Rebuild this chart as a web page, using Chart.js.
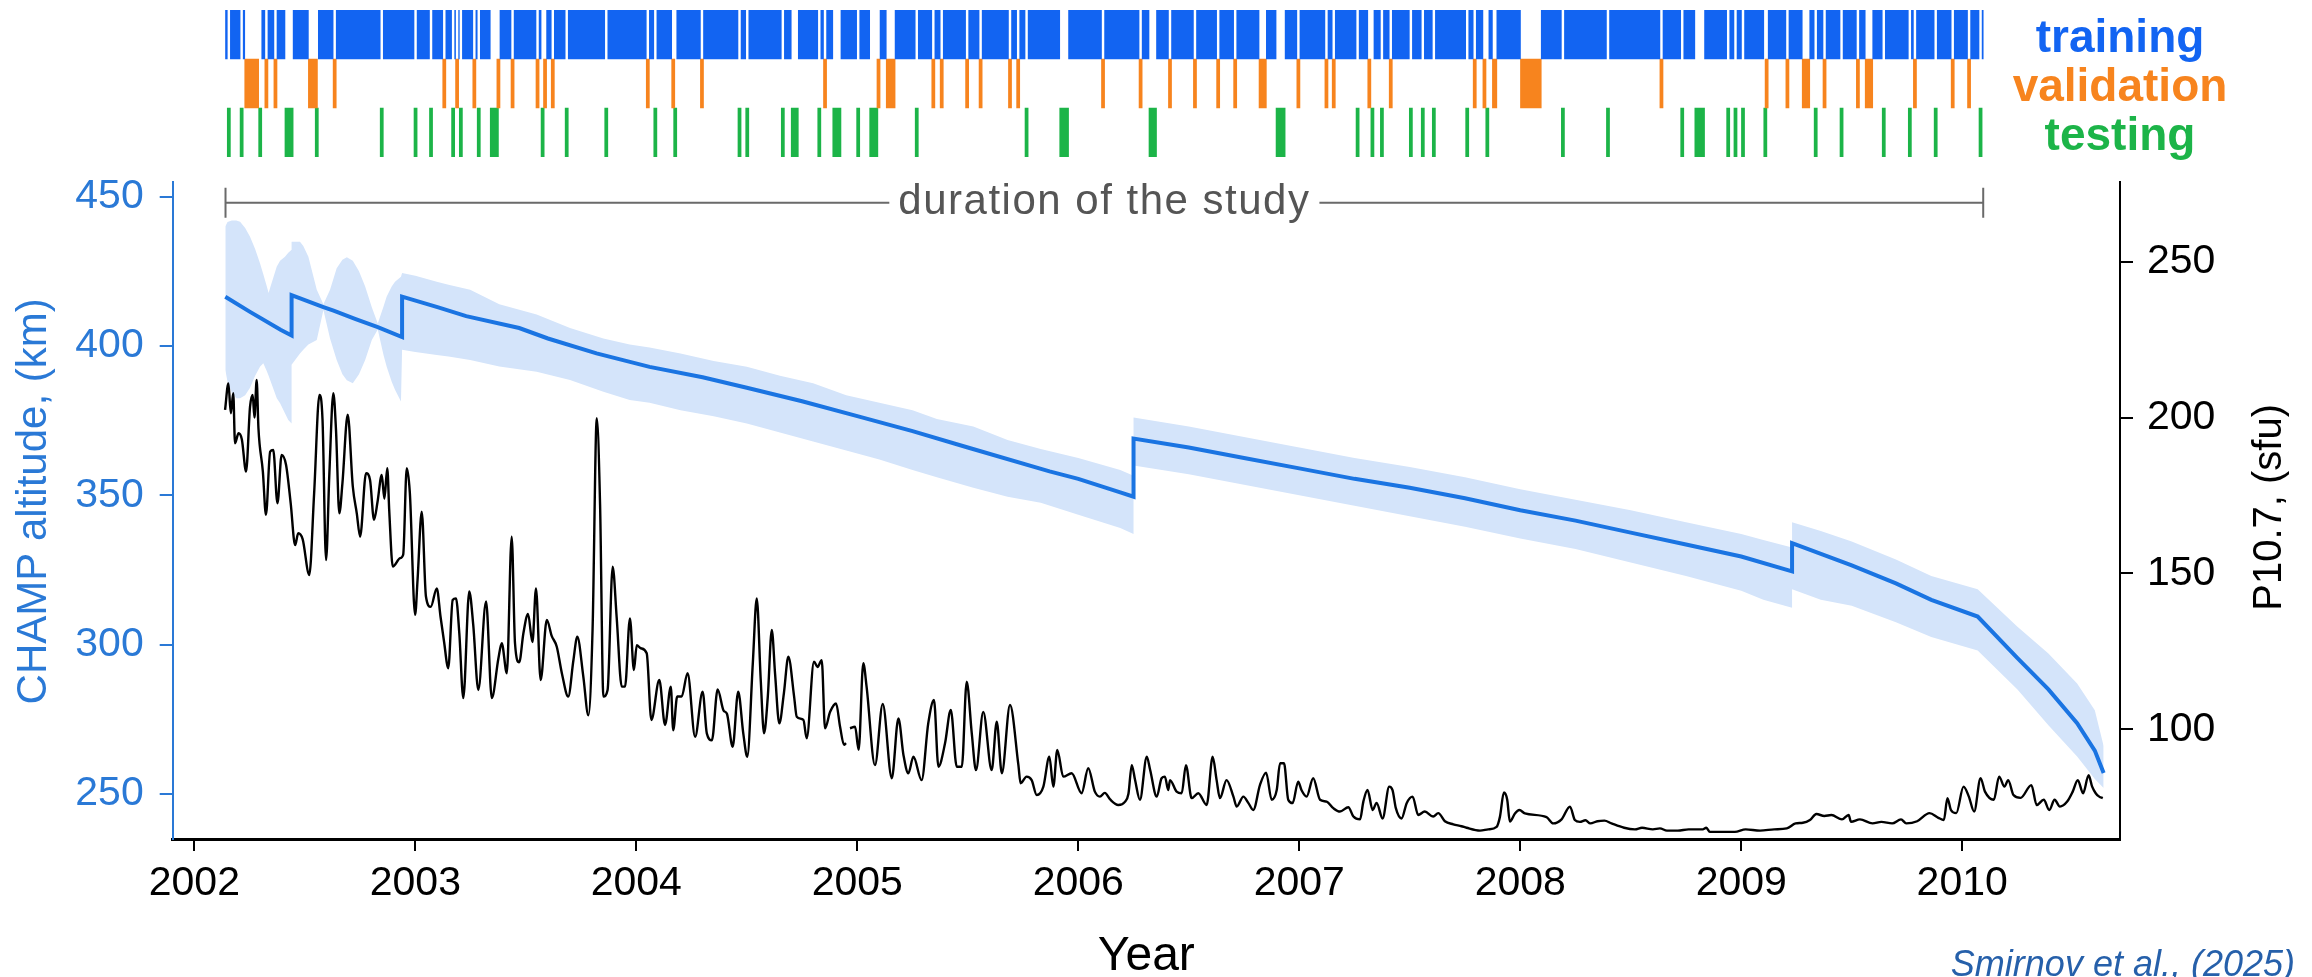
<!DOCTYPE html>
<html>
<head>
<meta charset="utf-8">
<title>CHAMP altitude and P10.7</title>
<script src="https://cdn.jsdelivr.net/npm/chart.js@4.4.1/dist/chart.umd.min.js"></script>
<style>
  html, body { margin: 0; padding: 0; background: #fff; }
  #wrap { position: relative; width: 2312px; height: 977px; }
  #wrap canvas { position: absolute; left: 0; top: 0; }
</style>
</head>
<body>
<div id="wrap">
  <canvas id="main" width="2312" height="977"></canvas>
  <canvas id="sets" width="2312" height="170"></canvas>
</div>
<script>
// time axis (decimal years)
const yearMin = 2001.902;
const yearMax = 2010.714;
const yearTicks = [2002, 2003, 2004, 2005, 2006, 2007, 2008, 2009, 2010];

// left axis: CHAMP altitude (km)
const altMin = 234.9;
const altMax = 455.0;
const altTicks = [250, 300, 350, 400, 450];

// right axis: P10.7 (sfu)
const fluxMin = 64.8;
const fluxMax = 275.7;
const fluxTicks = [100, 150, 200, 250];

// study window and the split of days into sets
const studyStart = 2002.141;
const studyEnd = 2010.095;
const setNames = ['training', 'validation', 'testing'];

const validationSpans = [
  [2002.228, 2002.291], [2002.319, 2002.333], [2002.360, 2002.374], [2002.516, 2002.557],
  [2002.628, 2002.642], [2003.124, 2003.138], [2003.182, 2003.196], [2003.260, 2003.274],
  [2003.369, 2003.383], [2003.433, 2003.447], [2003.546, 2003.560], [2003.580, 2003.594],
  [2003.615, 2003.629], [2004.045, 2004.059], [2004.160, 2004.174], [2004.290, 2004.304],
  [2004.847, 2004.861], [2005.089, 2005.103], [2005.131, 2005.171], [2005.337, 2005.351],
  [2005.375, 2005.389], [2005.490, 2005.504], [2005.551, 2005.565], [2005.684, 2005.698],
  [2005.721, 2005.735], [2006.105, 2006.119], [2006.275, 2006.289], [2006.408, 2006.422],
  [2006.521, 2006.535], [2006.626, 2006.640], [2006.703, 2006.717], [2006.818, 2006.851],
  [2006.989, 2007.003], [2007.116, 2007.130], [2007.149, 2007.163], [2007.310, 2007.324],
  [2007.407, 2007.421], [2007.787, 2007.801], [2007.831, 2007.845], [2007.874, 2007.894],
  [2008.001, 2008.095], [2008.632, 2008.646], [2009.108, 2009.122], [2009.202, 2009.216],
  [2009.276, 2009.310], [2009.370, 2009.384], [2009.521, 2009.535], [2009.561, 2009.595],
  [2009.779, 2009.793], [2009.950, 2009.964], [2010.024, 2010.038]
];

const testingSpans = [
  [2002.149, 2002.163], [2002.207, 2002.221], [2002.291, 2002.305], [2002.410, 2002.447],
  [2002.547, 2002.561], [2002.841, 2002.855], [2002.994, 2003.008], [2003.064, 2003.078],
  [2003.164, 2003.178], [2003.199, 2003.213], [2003.280, 2003.294], [2003.339, 2003.376],
  [2003.569, 2003.583], [2003.678, 2003.692], [2003.857, 2003.871], [2004.079, 2004.093],
  [2004.169, 2004.183], [2004.460, 2004.474], [2004.495, 2004.509], [2004.656, 2004.670],
  [2004.701, 2004.733], [2004.821, 2004.835], [2004.889, 2004.926], [2004.997, 2005.011],
  [2005.056, 2005.093], [2005.262, 2005.276], [2005.759, 2005.773], [2005.916, 2005.956],
  [2006.320, 2006.354], [2006.895, 2006.936], [2007.257, 2007.271], [2007.324, 2007.338],
  [2007.367, 2007.381], [2007.498, 2007.512], [2007.552, 2007.566], [2007.602, 2007.616],
  [2007.753, 2007.767], [2007.844, 2007.858], [2008.186, 2008.200], [2008.390, 2008.404],
  [2008.726, 2008.740], [2008.790, 2008.834], [2008.934, 2008.948], [2008.967, 2008.981],
  [2009.001, 2009.015], [2009.102, 2009.116], [2009.330, 2009.344], [2009.447, 2009.461],
  [2009.638, 2009.652], [2009.756, 2009.770], [2009.873, 2009.887], [2010.076, 2010.090]
];

// CHAMP altitude, the jumps are the orbit raising manoeuvres
const altYears = [
  2002.14, 2002.25, 2002.39, 2002.44, 2002.44, 2002.584, 2002.63, 2002.73, 2002.83, 2002.94,
  2002.94, 2003.10, 2003.23, 2003.47, 2003.60, 2003.82, 2004.06, 2004.30, 2004.50, 2004.75,
  2005.00, 2005.25, 2005.50, 2005.87, 2006.00, 2006.19, 2006.25, 2006.25, 2006.50, 2006.75,
  2007.00, 2007.25, 2007.50, 2007.75, 2008.00, 2008.25, 2008.50, 2008.75, 2009.00, 2009.23,
  2009.23, 2009.50, 2009.70, 2009.86, 2010.07, 2010.25, 2010.39, 2010.52, 2010.60, 2010.64
];
const altValues = [
  416.5, 411.5, 405.4, 403.5, 417.0, 413.0, 411.8, 409.0, 406.3, 403.0,
  416.5, 413.0, 410.0, 406.0, 402.5, 397.5, 393.0, 389.5, 386.0, 381.5,
  376.5, 371.5, 366.0, 358.0, 355.5, 351.0, 349.5, 369.0, 366.0, 362.5,
  359.0, 355.5, 352.5, 349.0, 345.0, 341.5, 337.5, 333.5, 329.5, 324.5,
  334.0, 326.5, 320.5, 315.0, 309.4, 295.5, 285.0, 273.7, 264.5, 257.0
];

// altitude uncertainty band
const bandYears = [
  2002.140, 2002.150, 2002.169, 2002.190, 2002.207, 2002.230, 2002.252, 2002.275, 2002.297, 2002.312,
  2002.328, 2002.336, 2002.343, 2002.373, 2002.388, 2002.410, 2002.425, 2002.440, 2002.440, 2002.478,
  2002.493, 2002.516, 2002.554, 2002.584, 2002.614, 2002.644, 2002.670, 2002.690, 2002.717, 2002.745,
  2002.773, 2002.803, 2002.830, 2002.856, 2002.870, 2002.893, 2002.908, 2002.935, 2002.940, 2003.000,
  2003.097, 2003.150, 2003.248, 2003.380, 2003.549, 2003.700, 2003.851, 2003.970, 2004.060, 2004.200,
  2004.350, 2004.500, 2004.650, 2004.800, 2004.950, 2005.100, 2005.250, 2005.360, 2005.525, 2005.680,
  2005.830, 2006.000, 2006.190, 2006.250, 2006.250, 2006.500, 2006.750, 2007.000, 2007.250, 2007.500,
  2007.750, 2008.000, 2008.250, 2008.500, 2008.750, 2009.000, 2009.100, 2009.230, 2009.230, 2009.360,
  2009.500, 2009.700, 2009.860, 2010.070, 2010.250, 2010.390, 2010.520, 2010.600, 2010.640
];
const bandUpper = [
  440.0, 441.5, 442.0, 442.0, 441.6, 439.5, 436.6, 432.5, 427.7, 424.0,
  419.9, 417.7, 419.5, 426.6, 428.5, 429.9, 431.2, 432.2, 434.9, 434.9,
  433.5, 429.9, 418.8, 414.0, 418.8, 426.0, 428.9, 429.7, 428.5, 425.0,
  419.9, 413.0, 407.5, 413.2, 416.5, 419.9, 421.5, 423.2, 424.4, 423.5,
  421.5, 420.5, 418.8, 414.0, 410.5, 406.0, 402.5, 400.5, 399.5, 397.5,
  395.0, 393.0, 390.0, 387.5, 383.5, 381.0, 378.5, 375.5, 373.0, 368.5,
  365.5, 362.5, 358.5, 356.5, 376.0, 373.0, 369.5, 366.0, 362.5, 359.5,
  356.0, 352.0, 348.5, 345.0, 341.0, 337.0, 335.0, 332.5, 341.0, 338.0,
  334.5, 328.5, 323.0, 318.5, 306.0, 297.0, 287.0, 278.0, 266.0
];
const bandLower = [
  392.0, 388.0, 384.5, 382.5, 382.5, 383.5, 386.0, 390.0, 393.0, 394.2,
  391.5, 390.0, 388.6, 382.5, 380.8, 377.5, 375.2, 374.0, 393.7, 397.5,
  398.7, 400.5, 402.0, 412.0, 402.5, 395.3, 390.5, 388.5, 387.5, 390.5,
  395.3, 402.0, 405.5, 397.0, 393.1, 388.0, 385.3, 381.4, 398.7, 398.0,
  397.0, 396.5, 395.3, 393.1, 391.4, 388.6, 384.7, 381.9, 381.0, 378.5,
  376.5, 374.0, 371.0, 368.0, 365.0, 362.0, 358.5, 356.0, 352.5, 349.5,
  347.5, 343.5, 339.0, 337.0, 360.0, 357.0, 353.5, 350.0, 346.5, 343.0,
  339.5, 335.5, 332.0, 327.5, 323.0, 318.0, 315.0, 312.3, 318.5, 315.0,
  313.0, 307.5, 302.5, 298.0, 285.0, 273.0, 262.5, 255.0, 252.0
];

// P10.7 solar flux index
const fluxYears = [
  2002.139, 2002.154, 2002.165, 2002.176, 2002.184, 2002.200, 2002.215, 2002.234, 2002.252, 2002.264,
  2002.272, 2002.282, 2002.290, 2002.310, 2002.324, 2002.343, 2002.357, 2002.376, 2002.395, 2002.415,
  2002.436, 2002.456, 2002.470, 2002.490, 2002.520, 2002.542, 2002.566, 2002.580, 2002.596, 2002.611,
  2002.629, 2002.641, 2002.656, 2002.670, 2002.694, 2002.717, 2002.735, 2002.750, 2002.777, 2002.795,
  2002.813, 2002.829, 2002.848, 2002.860, 2002.873, 2002.882, 2002.898, 2002.931, 2002.945, 2002.961,
  2002.975, 2002.999, 2003.010, 2003.029, 2003.048, 2003.070, 2003.097, 2003.114, 2003.130, 2003.149,
  2003.169, 2003.184, 2003.199, 2003.217, 2003.244, 2003.262, 2003.285, 2003.320, 2003.346, 2003.376,
  2003.391, 2003.414, 2003.436, 2003.451, 2003.470, 2003.489, 2003.510, 2003.530, 2003.546, 2003.567,
  2003.595, 2003.617, 2003.640, 2003.663, 2003.692, 2003.715, 2003.733, 2003.760, 2003.783, 2003.802,
  2003.821, 2003.836, 2003.851, 2003.870, 2003.893, 2003.911, 2003.934, 2003.949, 2003.971, 2003.989,
  2004.002, 2004.020, 2004.047, 2004.068, 2004.104, 2004.130, 2004.156, 2004.167, 2004.185, 2004.205,
  2004.232, 2004.266, 2004.300, 2004.319, 2004.342, 2004.368, 2004.395, 2004.410, 2004.436, 2004.461,
  2004.484, 2004.502, 2004.527, 2004.545, 2004.563, 2004.578, 2004.595, 2004.613, 2004.628, 2004.647,
  2004.668, 2004.688, 2004.714, 2004.726, 2004.756, 2004.771, 2004.804, 2004.820, 2004.839, 2004.854,
  2004.877, 2004.904, 2004.922, 2004.940, 2004.949, 2004.958, 2004.967, 2004.990, 2005.006, 2005.027,
  2005.042, 2005.080, 2005.115, 2005.156, 2005.186, 2005.209, 2005.231, 2005.254, 2005.291, 2005.321,
  2005.347, 2005.367, 2005.397, 2005.423, 2005.450, 2005.473, 2005.495, 2005.518, 2005.537, 2005.570,
  2005.608, 2005.631, 2005.654, 2005.691, 2005.729, 2005.739, 2005.766, 2005.789, 2005.812, 2005.842,
  2005.869, 2005.887, 2005.905, 2005.932, 2005.970, 2006.015, 2006.045, 2006.075, 2006.098, 2006.120,
  2006.144, 2006.181, 2006.211, 2006.227, 2006.242, 2006.257, 2006.279, 2006.310, 2006.325, 2006.355,
  2006.377, 2006.392, 2006.407, 2006.415, 2006.445, 2006.468, 2006.487, 2006.513, 2006.543, 2006.581,
  2006.608, 2006.626, 2006.641, 2006.671, 2006.702, 2006.717, 2006.747, 2006.770, 2006.792, 2006.822,
  2006.850, 2006.875, 2006.898, 2006.913, 2006.931, 2006.950, 2006.970, 2006.995, 2007.010, 2007.033,
  2007.063, 2007.094, 2007.124, 2007.154, 2007.184, 2007.222, 2007.245, 2007.275, 2007.290, 2007.309,
  2007.332, 2007.350, 2007.377, 2007.407, 2007.422, 2007.437, 2007.463, 2007.486, 2007.513, 2007.538,
  2007.568, 2007.606, 2007.629, 2007.659, 2007.697, 2007.734, 2007.757, 2007.818, 2007.855, 2007.893,
  2007.908, 2007.926, 2007.941, 2007.953, 2007.976, 2007.996, 2008.021, 2008.119, 2008.149, 2008.187,
  2008.225, 2008.247, 2008.270, 2008.295, 2008.317, 2008.349, 2008.381, 2008.413, 2008.470, 2008.519,
  2008.551, 2008.600, 2008.632, 2008.664, 2008.713, 2008.762, 2008.826, 2008.842, 2008.858, 2008.907,
  2008.971, 2009.020, 2009.085, 2009.149, 2009.206, 2009.246, 2009.279, 2009.311, 2009.340, 2009.376,
  2009.408, 2009.456, 2009.486, 2009.497, 2009.537, 2009.594, 2009.634, 2009.683, 2009.723, 2009.747,
  2009.796, 2009.852, 2009.892, 2009.917, 2009.933, 2009.949, 2009.973, 2010.006, 2010.030, 2010.054,
  2010.083, 2010.103, 2010.143, 2010.167, 2010.191, 2010.208, 2010.232, 2010.264, 2010.313, 2010.337,
  2010.369, 2010.394, 2010.418, 2010.442, 2010.475, 2010.500, 2010.523, 2010.547, 2010.572, 2010.588,
  2010.604, 2010.620, 2010.636
];
const fluxValues = [
  202.5, 211.0, 201.4, 207.8, 191.8, 195.0, 193.0, 182.7, 203.5, 207.3,
  200.0, 212.1, 196.6, 182.7, 168.8, 189.1, 189.6, 172.5, 188.0, 184.8,
  172.5, 159.1, 162.9, 161.0, 149.5, 175.7, 207.3, 199.3, 154.3, 182.2,
  207.8, 196.0, 169.3, 178.9, 200.9, 177.9, 169.3, 161.8, 182.2, 180.0,
  167.2, 173.0, 181.6, 174.0, 183.8, 170.0, 152.2, 154.9, 156.0, 183.8,
  176.0, 136.7, 147.9, 169.8, 142.6, 139.3, 145.2, 136.1, 128.1, 119.6,
  141.5, 142.0, 130.8, 110.0, 144.2, 133.5, 112.6, 141.0, 110.0, 122.8,
  127.6, 118.0, 161.8, 127.6, 121.5, 130.8, 137.0, 128.0, 145.2, 115.8,
  135.1, 130.0, 126.5, 118.0, 110.5, 122.0, 129.7, 117.0, 104.5, 132.0,
  199.8, 172.0, 110.5, 112.6, 152.2, 136.0, 113.7, 113.7, 135.6, 119.0,
  127.0, 126.0, 124.4, 103.0, 115.8, 101.4, 113.7, 99.7, 110.5, 110.5,
  118.0, 97.6, 112.1, 98.7, 96.5, 112.8, 106.0, 105.0, 94.4, 112.1,
  98.7, 91.2, 121.0, 142.0, 115.8, 98.7, 110.5, 131.9, 117.7, 101.9,
  111.7, 123.3, 110.5, 104.0, 103.0, 97.1, 121.7, 120.0, 122.2, 100.3,
  105.6, 108.3, 100.8, 95.0, 95.6, null, 100.3, 100.8, 93.4, 121.2,
  113.7, 88.5, 108.1, 84.3, 103.5, 91.7, 85.9, 91.2, 83.7, 101.9,
  109.4, 88.0, 95.5, 106.2, 88.0, 88.0, 115.3, 98.7, 86.9, 105.6,
  86.9, 102.4, 85.9, 107.8, 88.5, 82.7, 84.8, 83.7, 78.9, 81.6,
  91.2, 81.6, 93.4, 84.8, 85.9, 79.5, 87.5, 80.0, 78.4, 79.6,
  77.5, 75.7, 76.7, 79.3, 88.5, 83.7, 77.4, 91.2, 87.0, 78.4,
  84.3, 84.8, 80.5, 83.7, 80.0, 79.5, 88.5, 77.9, 79.5, 75.7,
  91.2, 83.7, 77.9, 83.7, 78.4, 75.2, 78.4, 76.3, 74.1, 82.1,
  86.1, 77.4, 80.5, 89.1, 89.1, 77.4, 76.3, 83.2, 80.5, 78.4,
  84.3, 77.4, 76.8, 74.7, 73.6, 75.0, 72.0, 71.1, 76.8, 80.5,
  74.1, 76.4, 71.4, 81.6, 80.5, 74.7, 71.4, 76.3, 78.4, 72.5,
  73.6, 72.0, 73.1, 70.5, 69.5, 68.9, 68.4, 67.5, 67.9, 68.7,
  71.9, 79.7, 77.4, 70.4, 73.0, 74.1, 73.0, 71.8, 69.8, 71.1,
  75.2, 70.9, 70.3, 70.8, 69.8, 70.5, 70.7, 69.8, 68.4, 67.9,
  68.4, 67.9, 68.2, 67.5, 67.5, 67.9, 67.9, 68.4, 67.1, 67.1,
  67.1, 67.9, 67.5, 67.9, 68.2, 69.8, 70.0, 70.9, 72.8, 72.2,
  72.5, 71.1, 72.5, 70.3, 71.1, 69.8, 70.3, 69.8, 71.1, 69.8,
  70.5, 73.1, 71.6, 70.9, 77.9, 74.1, 73.1, 81.6, 78.4, 73.6,
  84.3, 80.0, 77.4, 84.8, 81.6, 83.7, 78.9, 78.0, 82.1, 75.7,
  77.4, 74.1, 77.4, 75.2, 76.8, 80.0, 83.7, 79.5, 85.3, 81.6,
  79.5, 78.4, 77.9
];

const FONT = '"Liberation Sans", Arial, Helvetica, sans-serif';
const BLUE_AXIS = '#2a79d6';
const setColors = ['#1264f2', '#f7841e', '#1cb448'];

Chart.defaults.font.family = FONT;
Chart.defaults.animation = false;
Chart.defaults.plugins.legend.display = false;
Chart.defaults.plugins.tooltip.enabled = false;

const toPoints = (xs, ys) => xs.map((x, i) => ({ x, y: ys[i] }));

// training days are whatever is left of the study window
function trainingSpans() {
  const taken = [...validationSpans, ...testingSpans].sort((a, b) => a[0] - b[0]);
  const spans = [];
  let cursor = studyStart;
  for (const [s, e] of taken) {
    if (s > cursor) spans.push([cursor, s]);
    cursor = Math.max(cursor, e);
  }
  if (cursor < studyEnd) spans.push([cursor, studyEnd]);
  return spans;
}

const setLabels = {
  id: 'setLabels',
  afterDraw(chart) {
    const { ctx, chartArea, scales: { y } } = chart;
    ctx.save();
    ctx.font = `bold 46px ${FONT}`;
    ctx.textAlign = 'center';
    ctx.textBaseline = 'alphabetic';
    setNames.forEach((name, i) => {
      ctx.fillStyle = setColors[i];
      ctx.fillText(name, chartArea.right, y.getPixelForValue(i) + 17);
    });
    ctx.restore();
  }
};

new Chart(document.getElementById('sets'), {
  type: 'bar',
  data: {
    labels: setNames,
    datasets: [
      { data: trainingSpans().map(s => ({ x: s, y: 'training' })), backgroundColor: setColors[0] },
      { data: validationSpans.map(s => ({ x: s, y: 'validation' })), backgroundColor: setColors[1] },
      { data: testingSpans.map(s => ({ x: s, y: 'testing' })), backgroundColor: setColors[2] },
    ],
  },
  options: {
    indexAxis: 'y',
    responsive: false,
    layout: { padding: { left: 172.7, right: 192, top: 10, bottom: 13 } },
    datasets: { bar: { grouped: false, barPercentage: 1, categoryPercentage: 1, borderWidth: 0 } },
    scales: {
      x: { type: 'linear', min: yearMin, max: yearMax, display: false },
      y: { type: 'category', display: false },
    },
  },
  plugins: [setLabels],
});

function rotatedLabel(ctx, text, x, y, color, size) {
  ctx.save();
  ctx.translate(x, y);
  ctx.rotate(-Math.PI / 2);
  ctx.fillStyle = color;
  ctx.font = `${size}px ${FONT}`;
  ctx.textAlign = 'center';
  ctx.textBaseline = 'middle';
  ctx.fillText(text, 0, 0);
  ctx.restore();
}

// "duration of the study" bracket, axis titles and citation
const extras = {
  id: 'extras',
  afterDraw(chart) {
    const { ctx, chartArea, scales: { x, yFlux } } = chart;
    const x0 = x.getPixelForValue(studyStart);
    const x1 = x.getPixelForValue(studyEnd);
    const y = chartArea.top + 21;
    const label = 'duration of the study';

    ctx.save();
    ctx.font = `42px ${FONT}`;
    ctx.letterSpacing = '1.5px';
    const w = ctx.measureText(label).width;
    const mid = (x0 + x1) / 2;
    ctx.strokeStyle = '#6a6a6a';
    ctx.lineWidth = 2;
    ctx.beginPath();
    ctx.moveTo(x0, y - 15); ctx.lineTo(x0, y + 15);
    ctx.moveTo(x1, y - 15); ctx.lineTo(x1, y + 15);
    ctx.moveTo(x0, y); ctx.lineTo(mid - w / 2 - 9, y);
    ctx.moveTo(mid + w / 2 + 9, y); ctx.lineTo(x1, y);
    ctx.stroke();
    ctx.fillStyle = '#555';
    ctx.textAlign = 'center';
    ctx.textBaseline = 'middle';
    ctx.fillText(label, mid, y);
    ctx.restore();

    const midY = (chartArea.top + chartArea.bottom) / 2;
    rotatedLabel(ctx, 'CHAMP altitude, (km)', 34, midY - 9, BLUE_AXIS, 42);
    rotatedLabel(ctx, 'P10.7, (sfu)', yFlux.right - 42, midY - 3, '#000', 40);

    ctx.save();
    ctx.font = `italic 36px ${FONT}`;
    ctx.fillStyle = '#2660aa';
    ctx.textAlign = 'right';
    ctx.textBaseline = 'alphabetic';
    ctx.fillText('Smirnov et al., (2025)', 2295, 976);
    ctx.restore();
  }
};

new Chart(document.getElementById('main'), {
  type: 'line',
  data: {
    datasets: [
      {
        data: toPoints(fluxYears, fluxValues), yAxisID: 'yFlux',
        borderColor: '#000', borderWidth: 2.4, pointRadius: 0, spanGaps: false,
        cubicInterpolationMode: 'monotone', order: 0,
      },
      {
        data: toPoints(altYears, altValues), yAxisID: 'yAlt',
        borderColor: '#1a74e2', borderWidth: 4, pointRadius: 0, order: 1,
      },
      {
        data: toPoints(bandYears, bandUpper), yAxisID: 'yAlt',
        borderWidth: 0, pointRadius: 0, backgroundColor: '#d4e4fa', fill: '+1', order: 2,
      },
      {
        data: toPoints(bandYears, bandLower), yAxisID: 'yAlt',
        borderWidth: 0, pointRadius: 0, fill: false, order: 3,
      },
    ],
  },
  options: {
    responsive: false,
    layout: { padding: { top: 181.7, left: 0, right: 0, bottom: 0 } },
    elements: { line: { tension: 0 } },
    scales: {
      x: {
        type: 'linear', position: 'bottom', min: yearMin, max: yearMax,
        afterBuildTicks: s => { s.ticks = yearTicks.map(value => ({ value })); },
        afterFit: s => { s.height = 138; },
        grid: { drawOnChartArea: false, tickLength: 12, color: '#000', lineWidth: 2 },
        border: { color: '#000', width: 3 },
        ticks: { color: '#000', font: { size: 41 }, padding: 8, maxRotation: 0, autoSkip: false, callback: v => String(v) },
        title: { display: true, text: 'Year', color: '#000', font: { size: 48, lineHeight: 1 }, padding: { top: 0, bottom: -4 } },
      },
      yAlt: {
        type: 'linear', position: 'left', min: altMin, max: altMax,
        afterBuildTicks: s => { s.ticks = altTicks.map(value => ({ value })); },
        afterFit: s => { s.width = 172.7; },
        grid: { drawOnChartArea: false, tickLength: 13, color: BLUE_AXIS, lineWidth: 2 },
        border: { color: BLUE_AXIS, width: 2 },
        ticks: { color: BLUE_AXIS, font: { size: 41 }, padding: 16 },
      },
      yFlux: {
        type: 'linear', position: 'right', min: fluxMin, max: fluxMax,
        afterBuildTicks: s => { s.ticks = fluxTicks.map(value => ({ value })); },
        afterFit: s => { s.width = 192; },
        grid: { drawOnChartArea: false, tickLength: 13, color: '#000', lineWidth: 2 },
        border: { color: '#000', width: 2 },
        ticks: { color: '#000', font: { size: 41 }, padding: 14 },
      },
    },
  },
  plugins: [extras],
});
</script>
</body>
</html>
